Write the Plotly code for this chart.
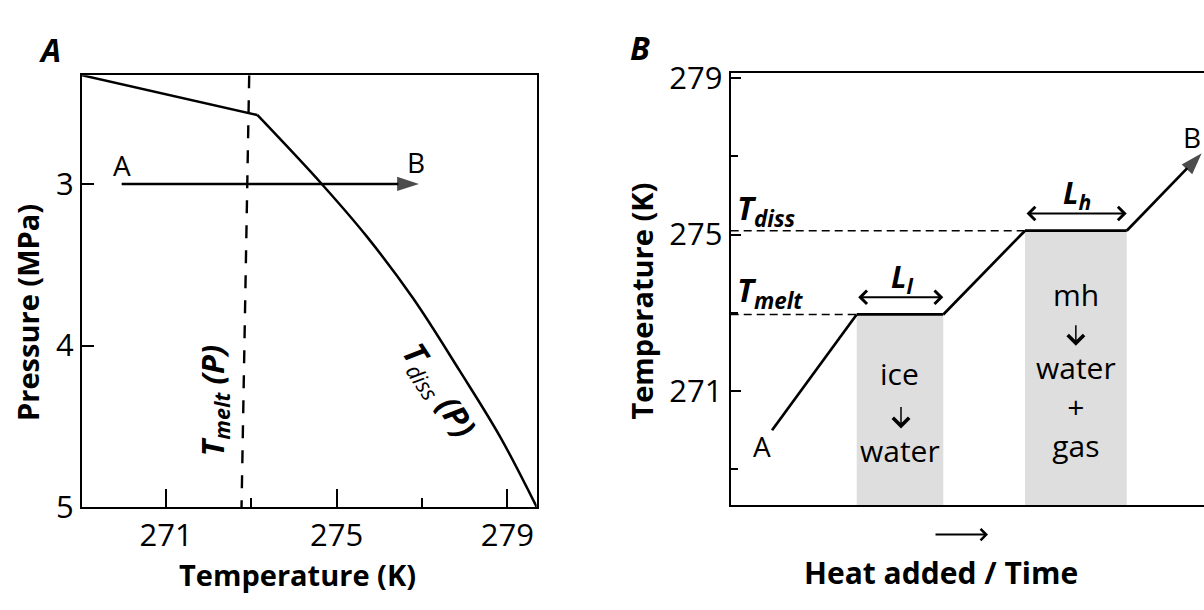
import plotly.graph_objects as go

W, H = 1204, 610

# panel A: pressure vs temperature
diss_temp = [269.03, 273.14, 274.65, 275.70, 276.80, 277.89, 278.83, 279.69]
diss_pres = [2.327, 2.573, 3.0, 3.323, 3.711, 4.159, 4.564, 5.0]
melt_temp = [272.95, 272.77]
melt_pres = [2.327, 5.0]
path_temp = [269.96, 276.93]
path_pres = [3.0, 3.0]

# panel B: heating curve (heat in arbitrary units)
heat = [0.873, 2.662, 4.492, 6.218, 8.367, 9.951]
heat_temp = [270.0, 272.96, 272.96, 275.1, 275.1, 277.08]
b_temp_range = [268.08, 279.12]
b_heat_range = [0, 10]

FONT = "Open Sans"
GREY = "#dedede"
B_LEFT = 730.7


def ann(text, x, y, size, angle=0, xanchor="center", yanchor="middle"):
    return dict(text=text, x=x / W, y=1 - y / H, xref="paper", yref="paper",
                showarrow=False, textangle=angle, xanchor=xanchor, yanchor=yanchor,
                font=dict(family=FONT, size=size, color="black"))


def down_arrow(x, y_tail, y_tip):
    return dict(x=x / W, y=1 - y_tip / H, xref="paper", yref="paper", ax=0, ay=y_tail - y_tip,
                text="", showarrow=True, arrowhead=4, arrowwidth=1.5, arrowsize=2.1,
                arrowcolor="black")


def heat_px(h):
    return B_LEFT + (W - B_LEFT) * (h - b_heat_range[0]) / (b_heat_range[1] - b_heat_range[0])


fig = go.Figure()

# --- panel A ---
fig.add_trace(go.Scatter(x=diss_temp[:2], y=diss_pres[:2], mode="lines",
                         line=dict(color="black", width=2.5), xaxis="x", yaxis="y"))
fig.add_trace(go.Scatter(x=diss_temp[1:], y=diss_pres[1:], mode="lines",
                         line=dict(color="black", width=2.5, shape="spline", smoothing=1),
                         xaxis="x", yaxis="y"))
fig.add_trace(go.Scatter(x=melt_temp, y=melt_pres, mode="lines",
                         line=dict(color="black", width=2.4, dash="13px,12px"), xaxis="x", yaxis="y"))
fig.add_trace(go.Scatter(x=path_temp, y=path_pres, mode="lines+markers",
                         line=dict(color="black", width=2.5),
                         marker=dict(symbol="arrow", size=[0, 23], angleref="previous", color="black",
                                     line=dict(width=0)),
                         cliponaxis=False, xaxis="x", yaxis="y"))

# --- panel B ---
for i0, i1 in [(1, 2), (3, 4)]:
    fig.add_trace(go.Scatter(
        x=[heat[i0], heat[i1], heat[i1], heat[i0], heat[i0]],
        y=[b_temp_range[0], b_temp_range[0], heat_temp[i1], heat_temp[i0], b_temp_range[0]],
        mode="lines", fill="toself", fillcolor=GREY, line=dict(width=0),
        xaxis="x2", yaxis="y2"))
for i in [1, 3]:
    fig.add_trace(go.Scatter(x=[b_heat_range[0], heat[i]], y=[heat_temp[i], heat_temp[i]], mode="lines",
                             line=dict(color="black", width=1.5, dash="8px,5px"),
                             xaxis="x2", yaxis="y2"))
fig.add_trace(go.Scatter(x=heat, y=heat_temp, mode="lines+markers",
                         line=dict(color="black", width=2.7),
                         marker=dict(symbol="arrow", size=[0] * (len(heat) - 1) + [23],
                                     angleref="previous", color="black", line=dict(width=0)),
                         cliponaxis=False, xaxis="x2", yaxis="y2"))

axis_common = dict(showline=True, linecolor="black", linewidth=2, showgrid=False,
                   zeroline=False, ticks="inside", tickcolor="black", tickwidth=1.5,
                   tickfont=dict(family=FONT, size=31, color="black"))

fig.update_layout(
    width=W, height=H,
    margin=dict(l=0, r=0, t=0, b=0),
    paper_bgcolor="white", plot_bgcolor="white",
    showlegend=False,
    font=dict(family=FONT, color="black"),
    xaxis=dict(axis_common, domain=[82 / W, 536.7 / W], range=[269.03, 279.69],
               mirror=True, tickvals=[271, 275, 279], ticklen=18,
               minor=dict(tickvals=[273, 277], ticklen=9, ticks="inside", tickcolor="black"),
               anchor="y"),
    yaxis=dict(axis_common, domain=[1 - 521.7 / H, 1 - 62 / H], range=[5, 2.327],
               mirror=True, tickvals=[3, 4, 5], ticklen=12, anchor="x"),
    xaxis2=dict(axis_common, domain=[B_LEFT / W, 1], range=b_heat_range, mirror=True,
                ticks="", showticklabels=False, anchor="y2"),
    yaxis2=dict(axis_common, domain=[1 - 520 / H, 1 - 60 / H], range=b_temp_range,
                tickvals=[271, 275, 279], ticklen=10,
                minor=dict(tickvals=[269, 273, 277], ticklen=7, ticks="inside", tickcolor="black"),
                anchor="x2"),
)

ice_x = heat_px((heat[1] + heat[2]) / 2)
mh_x = heat_px((heat[3] + heat[4]) / 2)

annotations = [
    ann("<b><i>A</i></b>", 50, 35, 32),
    ann("<b><i>B</i></b>", 640, 33, 32),
    ann("<b>Pressure (MPa)</b>", 28, 315, 29, angle=-90),
    ann("<b>Temperature (K)</b>", 297, 594, 29),
    ann("<b>Temperature (K)</b>", 642, 303, 29, angle=-90),
    ann("<b>Heat added / Time</b>", 941, 591, 30),
    ann("A", 122, 158, 28),
    ann("B", 416, 154, 28),
    ann("<b><i>T<sub>melt</sub> (P)</i></b>", 214, 409, 31, angle=-90),
    ann("<b><i>T</i></b><i><sub>diss</sub></i><b><i> (P)</i></b>", 438, 398, 32, angle=57),
    ann("A", 762, 457, 28),
    ann("B", 1203, 128, 28, xanchor="right"),
    ann("<b><i>T<sub>diss</sub></i></b>", 735, 205, 32, xanchor="left"),
    ann("<b><i>T<sub>melt</sub></i></b>", 735, 293, 32, xanchor="left"),
    ann("<b><i>L<sub>l</sub></i></b>", 902, 278, 30),
    ann("<b><i>L<sub>h</sub></i></b>", 1077, 188, 30),
    ann("ice", ice_x, 380, 30),
    ann("water", ice_x, 462, 30),
    ann("mh", mh_x, 295, 30),
    ann("water<br>+<br>gas", mh_x, 415, 30),
    down_arrow(ice_x + 1, 415, 438),
    down_arrow(mh_x, 328, 350),
]

# latent heat double arrows span the plateaus
for i0, i1 in [(1, 2), (3, 4)]:
    annotations.append(dict(
        x=heat[i1], y=heat_temp[i1] + 0.44, ax=heat[i0], ay=heat_temp[i0] + 0.44,
        xref="x2", yref="y2", axref="x2", ayref="y2", text="", showarrow=True,
        arrowhead=4, startarrowhead=4, arrowside="end+start", arrowwidth=2,
        arrowsize=1.3, startarrowsize=1.3, arrowcolor="black"))

# heat direction arrow under panel B
annotations.append(dict(x=988 / W, y=1 - 551 / H, xref="paper", yref="paper",
                        ax=-54, ay=0, text="", showarrow=True, arrowhead=4,
                        arrowwidth=2, arrowsize=1.1, arrowcolor="black"))

fig.update_layout(annotations=annotations)

# drop the default page margin so the figure fills the window exactly
fig.write_html("out.html", config={"displayModeBar": False},
               post_script="document.body.style.margin='0px';")
